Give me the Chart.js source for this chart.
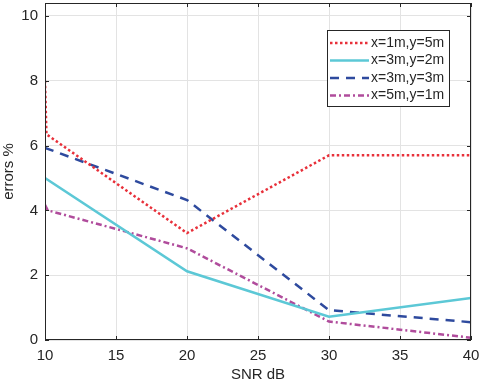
<!DOCTYPE html>
<html lang="en">
<head>
    <meta charset="UTF-8">
    <title>errors % vs SNR dB</title>
    <style>
        body {
            margin: 0;
            background: #ffffff;
        }
        #wrap {
            width: 481px;
            height: 384px;
        }
    </style>
    <script src="https://cdn.jsdelivr.net/npm/chart.js"></script>
</head>
<body>
    <div id="wrap"><canvas id="errChart" width="481" height="384"></canvas></div>

    <script>
    // values
    const labels = ['x=1m,y=5m', 'x=3m,y=2m', 'x=3m,y=3m', 'x=5m,y=1m'];

    const snrRed = [10, 10.1, 20, 30, 40];
    const errRed = [8.0, 6.35, 3.3, 5.7, 5.7];

    const snrCyan = [10, 20, 30, 40];
    const errCyan = [5.0, 2.12, 0.72, 1.3];

    const snrBlue = [10, 20, 30, 40];
    const errBlue = [5.93, 4.32, 0.92, 0.55];

    const snrMag = [10, 10.2, 20, 30, 40];
    const errMag = [4.17, 4.0, 2.83, 0.57, 0.07];

    const xTicks = [10, 15, 20, 25, 30, 35, 40];
    const yTicks = [0, 2, 4, 6, 8, 10];

    const pts = (xs, ys) => xs.map((x, i) => ({ x: x, y: ys[i] }));

    const axisColor = '#262626';
    const fontFam = '"Liberation Sans", Arial, sans-serif';

    // box around the axes, inward ticks and legend like matlab
    const matlabBox = {
        id: 'matlabBox',
        afterDraw(chart) {
            const ctx = chart.ctx;
            const a = chart.chartArea;
            const xs = chart.scales.x, ys = chart.scales.y;
            ctx.save();
            ctx.strokeStyle = axisColor;
            ctx.lineWidth = 1;
            ctx.setLineDash([]);
            ctx.strokeRect(a.left + 0.5, a.top + 0.5, a.right - a.left - 1, a.bottom - a.top - 1);

            ctx.beginPath();
            xTicks.forEach(v => {
                const px = Math.round(xs.getPixelForValue(v)) + 0.5;
                ctx.moveTo(px, a.bottom); ctx.lineTo(px, a.bottom - 4);
                ctx.moveTo(px, a.top); ctx.lineTo(px, a.top + 4);
            });
            yTicks.forEach(v => {
                const py = Math.round(ys.getPixelForValue(v)) + 0.5;
                ctx.moveTo(a.left, py); ctx.lineTo(a.left + 4, py);
                ctx.moveTo(a.right, py); ctx.lineTo(a.right - 4, py);
            });
            ctx.stroke();

            // legend
            const bx = a.right - 144, by = a.top + 27, bw = 122, bh = 76;
            ctx.fillStyle = '#ffffff';
            ctx.fillRect(bx, by, bw, bh);
            ctx.strokeStyle = axisColor;
            ctx.strokeRect(bx + 0.5, by + 0.5, bw, bh);
            ctx.font = '14px ' + fontFam;
            ctx.textBaseline = 'middle';
            chart.data.datasets.forEach((ds, i) => {
                const ly = by + 13 + i * 17.5;
                ctx.beginPath();
                ctx.strokeStyle = ds.borderColor;
                ctx.lineWidth = ds.borderWidth;
                ctx.setLineDash(ds.borderDash || []);
                ctx.moveTo(bx + 3, ly);
                ctx.lineTo(bx + 42, ly);
                ctx.stroke();
                ctx.setLineDash([]);
                ctx.fillStyle = axisColor;
                ctx.fillText(ds.label, bx + 44, ly);
            });
            ctx.restore();
        }
    };

    new Chart(document.getElementById('errChart').getContext('2d'), {
        type: 'line',
        data: {
            datasets: [
                { label: labels[0], data: pts(snrRed, errRed), borderColor: '#e8303a', borderWidth: 2.5, borderDash: [2.5, 2.5] },
                { label: labels[1], data: pts(snrCyan, errCyan), borderColor: '#5cc8d6', borderWidth: 2.5 },
                { label: labels[2], data: pts(snrBlue, errBlue), borderColor: '#2e4a9e', borderWidth: 2.5, borderDash: [9, 7] },
                { label: labels[3], data: pts(snrMag, errMag), borderColor: '#b04c9c', borderWidth: 2.5, borderDash: [6, 3, 2, 3] }
            ]
        },
        options: {
            responsive: false,
            animation: false,
            layout: { padding: { top: 3, right: 10, left: 0, bottom: 0 } },
            elements: { point: { radius: 0 }, line: { tension: 0 } },
            plugins: { legend: { display: false }, tooltip: { enabled: false } },
            scales: {
                x: {
                    type: 'linear',
                    min: 10,
                    max: 40,
                    afterBuildTicks: s => { s.ticks = xTicks.map(v => ({ value: v })); },
                    afterFit: s => { s.height = 44; s.paddingLeft = 0; s.paddingRight = 0; },
                    grid: { color: '#e3e3e3', drawTicks: false },
                    border: { display: false },
                    ticks: { color: axisColor, padding: 7, font: { family: fontFam, size: 15 } },
                    title: { display: true, text: 'SNR dB', color: axisColor, padding: 0, font: { family: fontFam, size: 15 } }
                },
                y: {
                    min: 0,
                    max: 10.4,
                    afterBuildTicks: s => { s.ticks = yTicks.map(v => ({ value: v })); },
                    afterFit: s => { s.width = 45; s.paddingTop = 0; s.paddingBottom = 0; },
                    grid: { color: '#e3e3e3', drawTicks: false },
                    border: { display: false },
                    ticks: { color: axisColor, padding: 7, font: { family: fontFam, size: 15 } },
                    title: { display: true, text: 'errors %', color: axisColor, padding: 0, font: { family: fontFam, size: 15 } }
                }
            }
        },
        plugins: [matlabBox]
    });
    </script>
</body>
</html>
